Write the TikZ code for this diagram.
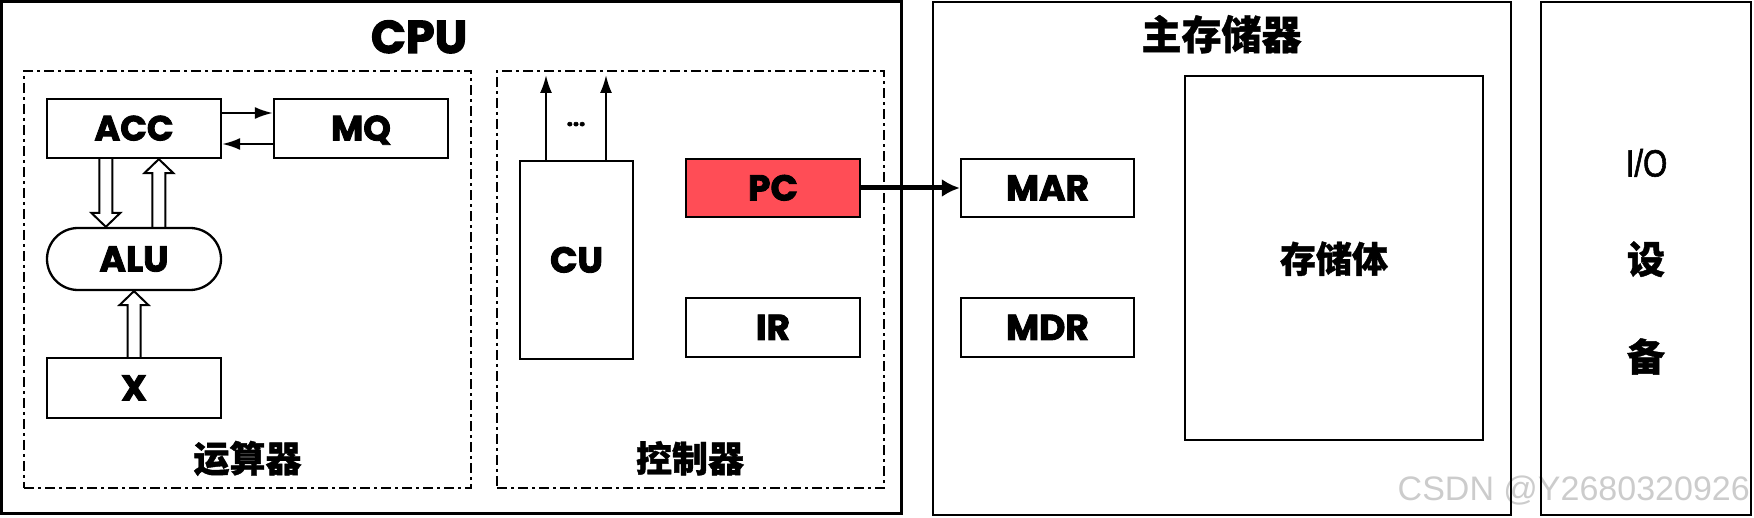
\documentclass[tikz,border=0pt]{standalone}
\usepackage{fontspec}
\setmainfont{Poppins}[BoldFeatures={FakeBold=2.5}]
\newfontfamily\cjk{Noto Sans CJK SC}[BoldFeatures={FakeBold=1}]
\newfontfamily\wmfont{Liberation Sans}
\newfontfamily\iofont{Liberation Sans}[FakeStretch=0.82, FakeBold=1.5]
\usetikzlibrary{calc,arrows.meta}
\definecolor{pcred}{RGB}{255,77,86}
% hollow block arrows: #1 = start point, #2 = tip
\newcommand\hup[2]{\draw[hollow] let \p1=(#1), \p2=(#2) in
  (\x1-6.5pt,\y1) -- (\x1-6.5pt,\y2-14pt) -- (\x1-14.5pt,\y2-14pt) -- (\x1,\y2)
  -- (\x1+14.5pt,\y2-14pt) -- (\x1+6.5pt,\y2-14pt) -- (\x1+6.5pt,\y1);}
\newcommand\hdown[2]{\draw[hollow] let \p1=(#1), \p2=(#2) in
  (\x1-6.5pt,\y1) -- (\x1-6.5pt,\y2+14pt) -- (\x1-14.5pt,\y2+14pt) -- (\x1,\y2)
  -- (\x1+14.5pt,\y2+14pt) -- (\x1+6.5pt,\y2+14pt) -- (\x1+6.5pt,\y1);}
\begin{document}
\begin{tikzpicture}[x=1pt,y=-1pt,
  outer/.style={draw, line width=2.5pt, inner sep=0pt},
  group/.style={draw, line width=2.2pt, dash pattern=on 10pt off 4pt on 3pt off 4pt, inner sep=0pt},
  reg/.style={draw, line width=2.3pt, inner sep=0pt, minimum width=174pt, minimum height=59pt,
    font=\fontsize{36}{40}\selectfont\bfseries, text height=25pt, text depth=0pt},
  cjklabel/.style={font=\cjk\bfseries\fontsize{36}{40}\selectfont, inner sep=0pt, text height=29pt, text depth=0pt},
  title/.style={font=\fontsize{46}{50}\selectfont\bfseries, inner sep=0pt},
  thinarrow/.style={line width=2.2pt, -{Latex[length=18pt,width=12pt]}},
  bigarrow/.style={line width=5pt, -{Latex[length=18pt,width=18pt]}},
  hollow/.style={line width=2pt, line join=miter},
]
\useasboundingbox (0,0) rectangle (1754,518);
% watermark (behind)
\node[anchor=base east, font=\wmfont\fontsize{34}{40}\selectfont, text=black!20, inner sep=0pt] (wm) at (1750,500) {CSDN @Y2680320926};
% outer boxes
\node[outer, minimum width=900pt, minimum height=512pt] (cpu) at (451.5,257.5) {};
\node[outer, minimum width=578pt, minimum height=513pt] (mem) at (1222,258.5) {};
\node[outer, minimum width=210pt, minimum height=513pt] (io) at (1646,258.5) {};
% group boxes
\node[group, minimum width=447pt, minimum height=417pt] (alugrp) at (247.5,279.5) {};
\node[group, minimum width=387pt, minimum height=417pt] (ctlgrp) at (690.5,279.5) {};
% titles
\node[title, anchor=base] (cputitle) at (419,53) {CPU};
\node[cjklabel, font=\cjk\bfseries\fontsize{40}{44}\selectfont, text height=32pt] (memtitle) at (1221.5,33.5) {主存储器};
\node[cjklabel] (alulabel) at (247.5,457.5) {运算器};
\node[cjklabel] (ctllabel) at (690,457.5) {控制器};
% ALU part
\node[reg, text height=24pt, font=\fontsize{35}{38}\selectfont\bfseries] (acc) at (134,128.5) {ACC};
\node[reg, text height=24pt, font=\fontsize{35}{38}\selectfont\bfseries] (mq) at (361,128.5) {MQ};
\node[reg, minimum height=62pt, rounded corners=31pt] (alu) at (134,259) {ALU};
\node[reg, minimum height=60pt] (x) at (134,388) {X};
% control part
\node[reg, minimum width=113pt, minimum height=198pt] (cu) at (576.5,260) {CU};
\node[reg, minimum height=58pt, fill=pcred] (pc) at (773,188) {PC};
\node[reg] (ir) at (773,327.5) {IR};
% memory part
\node[reg, minimum width=173pt, minimum height=58pt] (mar) at (1047.5,188) {MAR};
\node[reg, minimum width=173pt] (mdr) at (1047.5,327.5) {MDR};
\node[reg, minimum width=298pt, minimum height=364pt, font=\cjk\bfseries\fontsize{36}{40}\selectfont, text height=29pt] (store) at (1334,258) {存储体};
% I/O
\node[font=\iofont\fontsize{38}{44}\selectfont, inner sep=0pt, text height=27pt, text depth=0pt] (iotext) at (1646.5,163) {I/O};
\node[cjklabel, font=\cjk\bfseries\fontsize{38}{42}\selectfont, text height=30pt] (she) at (1646,258.5) {设};
\node[cjklabel, font=\cjk\bfseries\fontsize{38}{42}\selectfont, text height=30pt] (bei) at (1646,356) {备};
% ACC <-> MQ
\coordinate (am) at ([yshift=15.5pt]acc.east);
\coordinate (ma) at ([yshift=-15.5pt]mq.west);
\draw[thinarrow] (am) -- (am -| mq.west);
\draw[thinarrow] (ma) -- (ma -| acc.east);
% hollow arrows
\hdown{$(acc.south west)+(60,0)$}{$(alu.north west)+(60,0)$}
\hup{$(alu.north west)+(113,0)$}{$(acc.south west)+(113,0)$}
\hup{x.north}{alu.south}
% CU outputs
\coordinate (c1) at (546,75);
\coordinate (c2) at (606,75);
\draw[thinarrow] (c1 |- cu.north) -- (c1);
\draw[thinarrow] (c2 |- cu.north) -- (c2);
\node[font=\fontsize{22}{24}\selectfont\bfseries, inner sep=0pt, anchor=base] (dots) at (576,126) {...};
% PC -> MAR
\draw[bigarrow] (pc.east) -- (mar.west);
\end{tikzpicture}
\end{document}
